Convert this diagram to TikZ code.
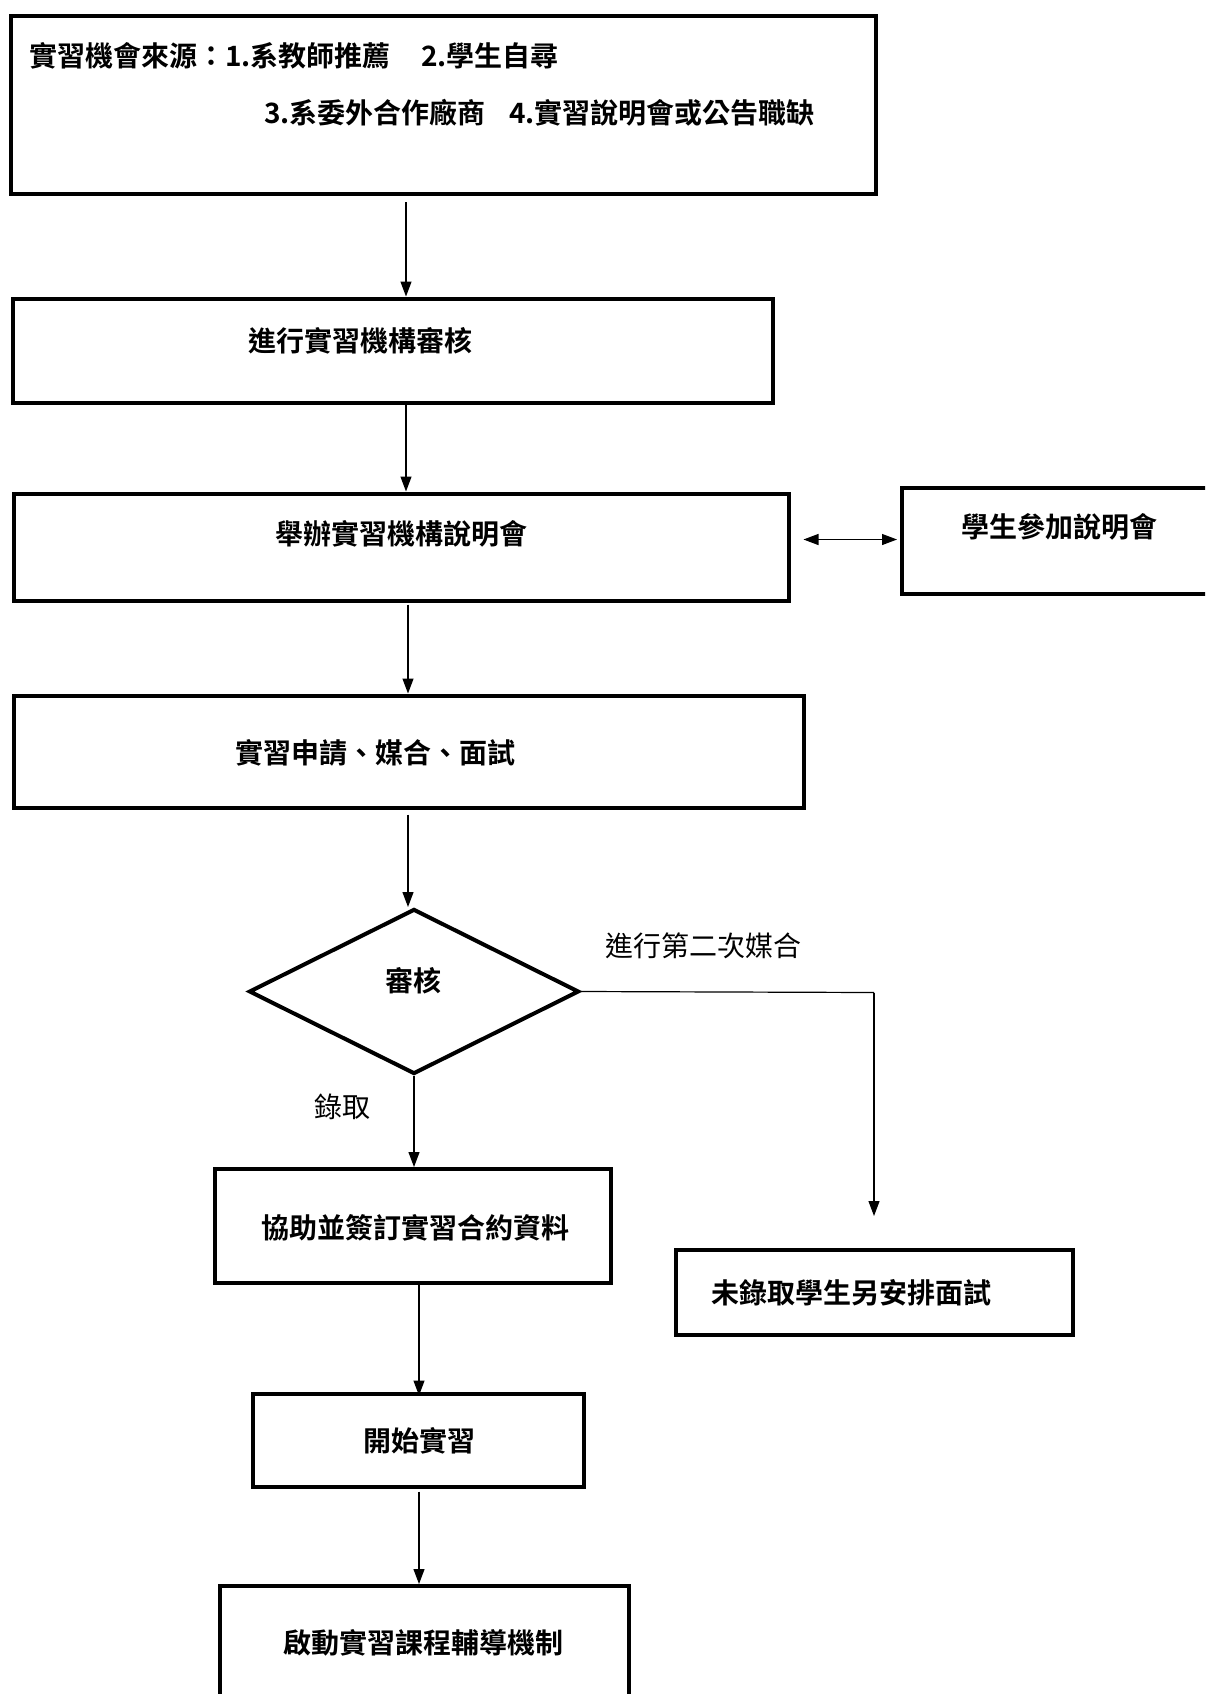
\documentclass[tikz,border=0pt]{standalone}
\usepackage{fontspec}
\usetikzlibrary{arrows.meta,shapes.geometric}
\newfontfamily\cjk{Noto Sans CJK TC}[BoldFont={Noto Sans CJK TC Bold}]
\tikzset{
  box/.style={draw, rectangle, line width=4pt, inner sep=0pt, text=black},
  btxt/.style={inner sep=0pt, font=\cjk\bfseries\fontsize{28pt}{34pt}\selectfont},
  ltxt/.style={inner sep=0pt, font=\cjk\fontsize{28pt}{34pt}\selectfont},
  arr/.style={line width=1.2pt, -{Triangle[length=15pt,width=11pt]}},
  darr/.style={line width=1.2pt, {Triangle[length=15pt,width=11pt]}-{Triangle[length=15pt,width=11pt]}},
  conn/.style={line width=1.2pt}
}
\begin{document}
\begin{tikzpicture}[x=1pt,y=-1pt]
\useasboundingbox (0,0) rectangle (1205,1694);
\fill[white] (0,0) rectangle (1205,1694);
\begin{scope}
\clip (0,0) rectangle (1205,1694);
% boxes
\node[box, minimum width=865pt, minimum height=178pt] (top) at (443,105) {};
\node[box, minimum width=760pt, minimum height=104pt] (b2) at (393,350.5) {};
\node[box, minimum width=775pt, minimum height=107pt] (b3) at (401,547) {};
\node[box, minimum width=316pt, minimum height=106pt] (b3b) at (1060,541) {};
\node[box, minimum width=790pt, minimum height=112pt] (b4) at (408.5,751.5) {};
\node[draw, shape=diamond, line width=4pt, inner sep=0pt, minimum width=330pt, minimum height=165pt, aspect=2] (dia) at (414,991.5) {};
\node[box, minimum width=396pt, minimum height=114pt] (b5) at (413,1226) {};
\node[box, minimum width=397pt, minimum height=85pt] (b6) at (874.3,1292) {};
\node[box, minimum width=331pt, minimum height=93pt] (b7) at (418.5,1440) {};
\node[box, minimum width=409pt, minimum height=160pt] (b8) at (424,1666) {};
\end{scope}
% texts
\node[btxt, anchor=west] (t1a) at (29,55.5) {\makebox[392pt][l]{實習機會來源：1.系教師推薦}2.學生自尋};
\node[btxt, anchor=west] (t1b) at (264,113) {\makebox[245pt][l]{3.系委外合作廠商}4.實習說明會或公告職缺};
\node[btxt] (t2) at (360,341) {進行實習機構審核};
\node[btxt] (t3) at (401,534) {舉辦實習機構說明會};
\node[btxt] (t3b) at (1059,527) {學生參加說明會};
\node[btxt] (t4) at (375,753) {實習申請、媒合、面試};
\node[btxt] (tdia) at (413.5,981) {審核};
\node[ltxt] (lab2) at (703,946) {進行第二次媒合};
\node[ltxt] (lab1) at (342,1107) {錄取};
\node[btxt] (t5) at (415,1228) {協助並簽訂實習合約資料};
\node[btxt] (t6) at (851,1293) {未錄取學生另安排面試};
\node[btxt] (t7) at (419,1441) {開始實習};
\node[btxt] (t8) at (423.5,1643) {啟動實習課程輔導機制};
% connectors
\coordinate (turn) at (874,992.5);
\coordinate (end6) at (874,1216);
\draw[arr] ([yshift=-6pt]top.south -| 406,0) -- (b2.north -| 406,0);
\draw[arr] (b2.south -| 406,0) -- (b3.north -| 406,0);
\draw[darr] ([xshift=13pt,yshift=7.5pt]b3.east) -- ([xshift=-3pt,yshift=7.5pt]b3b.west |- b3.east);
\draw[arr] ([yshift=-2pt]b3.south -| 408,0) -- (b4.north -| 408,0);
\draw[arr] ([yshift=-5pt]b4.south -| 408,0) -- (dia.north -| 408,0);
\draw[conn] (dia.east) -- (turn);
\draw[arr] (turn) -- (end6);
\draw[arr] (dia.south) -- (b5.north -| dia.south);
\draw[arr] (b5.south -| 419,0) -- ([yshift=-4pt]b7.north -| 419,0);
\draw[arr] ([yshift=-3pt]b7.south -| 419,0) -- (b8.north -| 419,0);
\end{tikzpicture}
\end{document}
